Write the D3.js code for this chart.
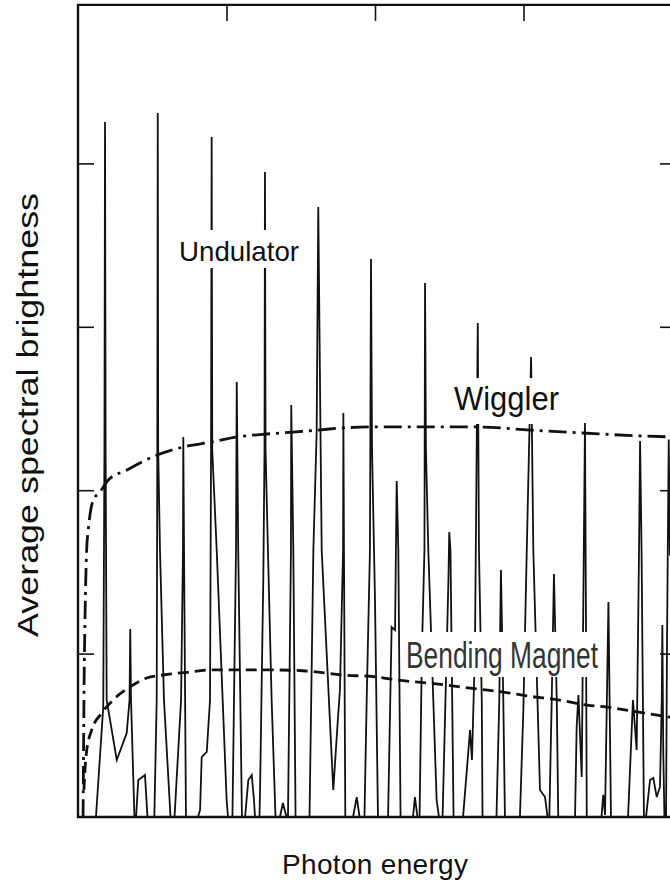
<!DOCTYPE html>
<html>
<head>
<meta charset="utf-8">
<script src="https://cdn.jsdelivr.net/npm/d3@7"></script>
<style>
  body { margin: 0; background: #fff; }
  svg { display: block; }
  text { font-family: "Liberation Sans", Arial, Helvetica, sans-serif; fill: #111; }
</style>
</head>
<body>
<svg id="chart" width="670" height="888"></svg>
<script>
// -------------------- DATA (arbitrary units) -------------------- //

// photon energy axis 0..40, brightness axis 0..50, no numbers printed on either
const xTicks = [10, 20, 30];
const yTicks = [10, 20, 30, 40];

const xTitle = "Photon energy";
const yTitle = "Average spectral brightness";
const curveNames = ["Undulator", "Wiggler", "Bending Magnet"];

// undulator spectrum: [energy, brightness], harmonics + small side lobes
const undulator = [
    [1.21, 0], [1.70, 6.73], [1.78, 22.46], [1.82, 42.53], [1.86, 22.46], [1.93, 7.16], [2.61, 3.49], [3.28, 5.14], [3.47, 7.16], [3.52, 11.51], [3.57, 7.16], [3.80, 0],
    [3.91, 0], [4.06, 2.26], [4.51, 2.57], [4.68, 0],
    [5.14, 0], [5.30, 7.16], [5.34, 22.46], [5.37, 43.08], [5.40, 22.46], [5.52, 16.34], [5.79, 7.16], [6.23, 0],
    [6.50, 0], [6.94, 7.16], [7.07, 16.34], [7.09, 23.26], [7.14, 16.34], [7.27, 0],
    [8.08, 0], [8.22, 0.43], [8.33, 3.67], [8.67, 3.98], [8.89, 7.16], [8.96, 22.46], [9.00, 41.61], [9.04, 22.46], [9.34, 16.34], [10.01, 1.04], [10.10, 0],
    [10.40, 0], [10.64, 16.34], [10.69, 26.62], [10.79, 16.34], [11.04, 0],
    [11.25, 0], [11.47, 2.26], [11.70, 2.57], [11.85, 1.04], [11.92, 0],
    [12.22, 0], [12.26, 1.65], [12.48, 14.69], [12.56, 22.46], [12.59, 39.47], [12.63, 22.46], [12.79, 16.34], [13.04, 7.16], [13.30, 0],
    [13.60, 0], [13.80, 0.86], [14.04, 0],
    [14.14, 0], [14.34, 16.34], [14.36, 25.21], [14.50, 16.34], [14.65, 0],
    [15.59, 0], [15.85, 16.34], [16.07, 23.50], [16.18, 37.33], [16.34, 22.58], [16.41, 16.34], [17.19, 1.65], [17.51, 6.12], [17.64, 7.77], [17.85, 16.34], [17.87, 24.72], [17.91, 16.34], [18.00, 0],
    [18.52, 0], [18.77, 1.22], [18.96, 0],
    [19.29, 0], [19.44, 7.16], [19.66, 16.34], [19.73, 34.15], [19.80, 22.46], [20.00, 13.28], [20.20, 0],
    [20.88, 0], [21.12, 11.63], [21.35, 11.44], [21.46, 20.56], [21.57, 16.34], [21.72, 0],
    [22.56, 0], [22.69, 1.22], [22.86, 0],
    [23.00, 0], [23.16, 10.22], [23.33, 16.34], [23.37, 32.68], [23.43, 22.46], [23.59, 16.34], [24.15, 1.04], [24.31, 0],
    [24.55, 0], [24.94, 14.32], [25.00, 17.44], [25.08, 16.34], [25.29, 0],
    [25.93, 0], [26.40, 5.32], [26.53, 3.49], [26.73, 10.22], [26.92, 30.23], [27.00, 16.34], [27.19, 7.16], [27.24, 0],
    [28.18, 0], [28.37, 7.16], [28.48, 15.12], [28.64, 7.16], [28.75, 0],
    [29.76, 0], [29.99, 6.55], [30.22, 16.34], [30.51, 28.15], [30.66, 16.34], [31.11, 1.65], [31.45, 1.22], [31.62, 0],
    [31.74, 0], [31.90, 7.16], [32.05, 14.87], [32.24, 7.16], [32.34, 0],
    [33.47, 0], [33.58, 5.51], [33.70, 7.47], [33.92, 2.45], [34.03, 13.28], [34.14, 24.11], [34.20, 13.28], [34.26, 0],
    [35.25, 0], [35.37, 1.35], [35.49, 0.12], [35.72, 13.16], [35.89, 0],
    [37.04, 0], [37.37, 7.16], [37.62, 4.10], [37.78, 16.34], [37.85, 23.01], [37.95, 16.34], [38.11, 0],
    [38.25, 0], [38.52, 2.26], [38.74, 2.39], [38.97, 1.22], [39.19, 1.84], [39.31, 7.16], [39.35, 11.75], [39.41, 4.10], [39.49, 0],
    [39.60, 0], [39.66, 10.22], [39.78, 23.1], [39.86, 16.0]
];

// wiggler envelope
const wiggler = [
    [0.34, 0], [0.37, 3.49], [0.40, 7.16], [0.47, 12.06], [0.59, 16.46], [0.69, 17.56], [1.03, 19.40], [1.48, 19.89],
    [2.04, 20.62], [3.30, 21.24], [4.31, 21.73], [5.32, 22.15], [7.07, 22.64], [9.02, 22.95], [10.71, 23.26],
    [12.73, 23.44], [14.48, 23.56], [16.16, 23.68], [17.85, 23.81], [19.66, 23.87], [23.23, 23.87], [26.87, 23.87],
    [30.44, 23.68], [34.01, 23.50], [37.85, 23.32], [40, 23.26]
];

// bending magnet
const bendingMagnet = [
    [0.40, 1.65], [0.47, 2.88], [0.59, 4.10], [0.92, 5.32], [1.60, 6.36], [2.36, 7.16], [3.50, 7.96], [4.63, 8.51],
    [5.72, 8.69], [7.07, 8.83], [9.09, 9.00], [10.71, 9.00], [12.93, 9.00], [15.15, 8.95], [17.85, 8.69], [20.13, 8.57],
    [21.48, 8.38], [23.57, 8.20], [26.94, 7.83], [28.42, 7.67], [30.64, 7.36], [31.99, 7.22], [34.28, 6.85],
    [35.62, 6.73], [37.64, 6.43], [39.66, 6.14], [40, 6.09]
];

// -------------------- SETUP -------------------- //

let svg = d3.select("#chart");

let x = d3.scaleLinear().domain([0, 40]).range([78, 672]);
let y = d3.scaleLinear().domain([0, 50]).range([817, 0]);

const TOP = y(49.7);
const RIGHT = 676;
const TICK = 16;

svg.append("rect").attr("width", 670).attr("height", 888).attr("fill", "#fff");

let line = d3.line().x(d => x(d[0])).y(d => y(d[1]));
let smooth = d3.line().x(d => x(d[0])).y(d => y(d[1])).curve(d3.curveMonotoneX);

// -------------------- UNDULATOR -------------------- //

svg.append("path")
    .datum(undulator)
    .attr("d", line)
    .attr("fill", "none")
    .attr("stroke", "#111")
    .attr("stroke-width", 1.8);

// white patches behind the labels (the spikes are cut there in the original)
function patch(x0, y0, w, h) {
    svg.append("rect").attr("x", x0).attr("y", y0).attr("width", w).attr("height", h).attr("fill", "#fff");
}
patch(175, 230, 128, 38);
patch(450, 378, 113, 46);
patch(402, 632, 200, 45);

// -------------------- WIGGLER + BENDING MAGNET -------------------- //

svg.append("path")
    .datum(wiggler)
    .attr("d", smooth)
    .attr("fill", "none")
    .attr("stroke", "#111")
    .attr("stroke-width", 2.8)
    .attr("stroke-dasharray", "18,6,3,6");

svg.append("path")
    .datum(bendingMagnet)
    .attr("d", smooth)
    .attr("fill", "none")
    .attr("stroke", "#111")
    .attr("stroke-width", 2.8)
    .attr("stroke-dasharray", "11,6");

// -------------------- FRAME + TICKS -------------------- //

svg.append("path")
    .attr("d", `M${x(0)},${y(0)}V${TOP}H${RIGHT}V${y(0)}Z`)
    .attr("fill", "none")
    .attr("stroke", "#111")
    .attr("stroke-width", 2.4);

function styleAxis(g) {
    g.select(".domain").remove();
    g.selectAll(".tick line").attr("stroke", "#111").attr("stroke-width", 1.6);
}

svg.append("g")
    .attr("transform", `translate(${x(0)},0)`)
    .call(d3.axisLeft(y).tickValues(yTicks).tickSizeInner(-TICK).tickSizeOuter(0).tickFormat(""))
    .call(styleAxis);

svg.append("g")
    .attr("transform", `translate(${RIGHT},0)`)
    .call(d3.axisRight(y).tickValues(yTicks).tickSizeInner(-TICK).tickSizeOuter(0).tickFormat(""))
    .call(styleAxis);

svg.append("g")
    .attr("transform", `translate(0,${TOP})`)
    .call(d3.axisTop(x).tickValues(xTicks).tickSizeInner(-TICK).tickSizeOuter(0).tickFormat(""))
    .call(styleAxis);

// -------------------- TEXT -------------------- //

svg.append("text")
    .attr("x", 375).attr("y", 874)
    .attr("text-anchor", "middle")
    .attr("font-size", 28)
    .attr("textLength", 186)
    .attr("lengthAdjust", "spacing")
    .text(xTitle);

svg.append("text")
    .attr("transform", "translate(38,415) rotate(-90)")
    .attr("text-anchor", "middle")
    .attr("font-size", 29)
    .attr("textLength", 444)
    .attr("lengthAdjust", "spacingAndGlyphs")
    .text(yTitle);

svg.append("text")
    .attr("x", 179).attr("y", 261)
    .attr("font-size", 28)
    .attr("textLength", 120)
    .attr("lengthAdjust", "spacingAndGlyphs")
    .text(curveNames[0]);

svg.append("text")
    .attr("x", 454).attr("y", 410)
    .attr("font-size", 33)
    .attr("textLength", 105)
    .attr("lengthAdjust", "spacingAndGlyphs")
    .text(curveNames[1]);

svg.append("text")
    .attr("x", 406).attr("y", 668)
    .attr("font-size", 36)
    .attr("textLength", 192)
    .attr("lengthAdjust", "spacingAndGlyphs")
    .style("fill", "#333")
    .text(curveNames[2]);
</script>
</body>
</html>
